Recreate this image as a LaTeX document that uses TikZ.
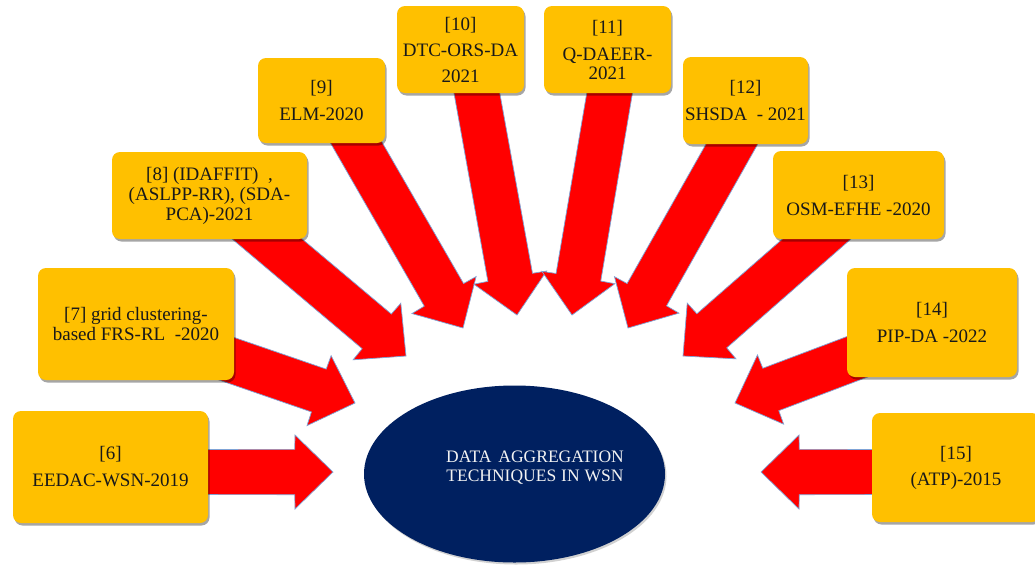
\documentclass[tikz,border=0pt]{standalone}
\usepackage{fontspec}
\setmainfont{Liberation Serif}
\usetikzlibrary{calc,shadows,backgrounds,shapes.geometric}

\definecolor{boxgold}{HTML}{FFC000}
\definecolor{corenavy}{HTML}{002060}
\definecolor{arrowred}{HTML}{FF0000}
\definecolor{arrowedge}{HTML}{7FA3D6}

\tikzset{
  refbox/.style={fill=boxgold, rounded corners=8pt, align=center,
    font=\fontsize{19}{20}\selectfont, text=black!90, inner sep=0pt,
    drop shadow={shadow xshift=1.5pt, shadow yshift=-2.5pt, opacity=0.35, fill=black}},
  bigarrow/.style={fill=arrowred, draw=arrowedge, line width=0.7pt, line join=miter},
  coreshape/.style={ellipse, fill=corenavy, inner sep=0pt,
    drop shadow={shadow xshift=1.5pt, shadow yshift=-2pt, opacity=0.18, fill=black}},
  coretextstyle/.style={text=white!95!black, align=center,
    font=\fontsize{17.5}{19}\selectfont},
}

% block arrow: shaft from #1 (inside a box) to the tip #2
\newcommand\blockarrow[2]{%
  \filldraw[bigarrow] let \p1=(#1), \p2=(#2), \n1={atan2(\y2-\y1,\x2-\x1)} in
    (#2) -- ($(#2)+(\n1+135.76:53.04pt)$) -- ($(#2)+(\n1+149.37:44.47pt)$)
    -- ($(#1)+(\n1+90:22.5pt)$) -- ($(#1)+(\n1-90:22.5pt)$)
    -- ($(#2)+(\n1-149.37:44.47pt)$) -- ($(#2)+(\n1-135.76:53.04pt)$) -- cycle;}

\begin{document}
\begin{tikzpicture}[x=1pt,y=-1pt]
\useasboundingbox (0,0) rectangle (1035,573);

% reference boxes
\node[refbox, minimum width=195pt, minimum height=112pt] (b6) at (110.5,467)
  {[6]\\[7pt]EEDAC-WSN-2019};
\node[refbox, minimum width=196pt, minimum height=112pt] (b7) at (136,324)
  {[7] grid clustering-\\based FRS-RL\ \ -2020};
\node[refbox, minimum width=195pt, minimum height=87pt] (b8) at (209.5,195.5)
  {[8] (IDAFFIT)\ \ ,\\(ASLPP-RR), (SDA-\\PCA)-2021};
\node[refbox, minimum width=127pt, minimum height=85pt] (b9) at (321.5,100.5)
  {[9]\\[7pt]ELM-2020};
\node[refbox, minimum width=127pt, minimum height=87pt] (b10) at (460.5,49.5)
  {[10]\\[6pt]DTC-ORS-DA\\[6pt]2021};
\node[refbox, minimum width=127pt, minimum height=87pt] (b11) at (607.5,49.5)
  {[11]\\[7pt]Q-DAEER-\\[-1pt]2021};
\node[refbox, minimum width=125pt, minimum height=87pt] (b12) at (745.5,100.5)
  {[12]\\[7pt]SHSDA\ \ - 2021};
\node[refbox, minimum width=171pt, minimum height=88pt] (b13) at (858.5,195)
  {[13]\\[7pt]OSM-EFHE -2020};
\node[refbox, minimum width=170pt, minimum height=109pt] (b14) at (932,322.5)
  {[14]\\[7pt]PIP-DA -2022};
\node[refbox, minimum width=168pt, minimum height=109pt] (b15) at (956,467.5)
  {[15]\\[6pt](ATP)-2015};

% central ellipse
\node[coreshape, minimum width=301pt, minimum height=177pt] (core) at (514.5,474) {};
\node[coretextstyle] (coretext) at ([shift={(20.5,-6)}]core.center)
  {DATA\hspace{7pt}AGGREGATION\\TECHNIQUES\hspace{5pt}IN\hspace{5pt}WSN};

% arrow tips
\coordinate (t6) at (333,472);
\coordinate (t7) at (355,403);
\coordinate (t8) at (406,356);
\coordinate (t9) at (463,328);
\coordinate (t10) at (517,315);
\coordinate (t11) at (572,315);
\coordinate (t12) at (628,328);
\coordinate (t13) at (683,356);
\coordinate (t14) at (735,403);
\coordinate (t15) at (761,472);

% arrow tails, hidden under the boxes
\coordinate (s6) at ([shift={(0,5)}]b6.center);
\coordinate (s7) at ([shift={(0,3.5)}]b7.center);
\coordinate (s8) at ([shift={(6,0)}]b8.center);
\coordinate (s9) at ([shift={(10.5,0)}]b9.center);
\coordinate (s10) at ([shift={(8.5,0)}]b10.center);
\coordinate (s11) at ([shift={(9.5,0)}]b11.center);
\coordinate (s12) at ([shift={(11,0)}]b12.center);
\coordinate (s13) at ([shift={(8.5,0)}]b13.center);
\coordinate (s14) at ([shift={(0,6)}]b14.center);
\coordinate (s15) at ([shift={(0,4.5)}]b15.center);

\begin{scope}[on background layer]
  \fill[white] (0,0) rectangle (1035,573);
  \foreach \k in {6,...,15} {\blockarrow{s\k}{t\k}}
\end{scope}
\end{tikzpicture}
\end{document}
